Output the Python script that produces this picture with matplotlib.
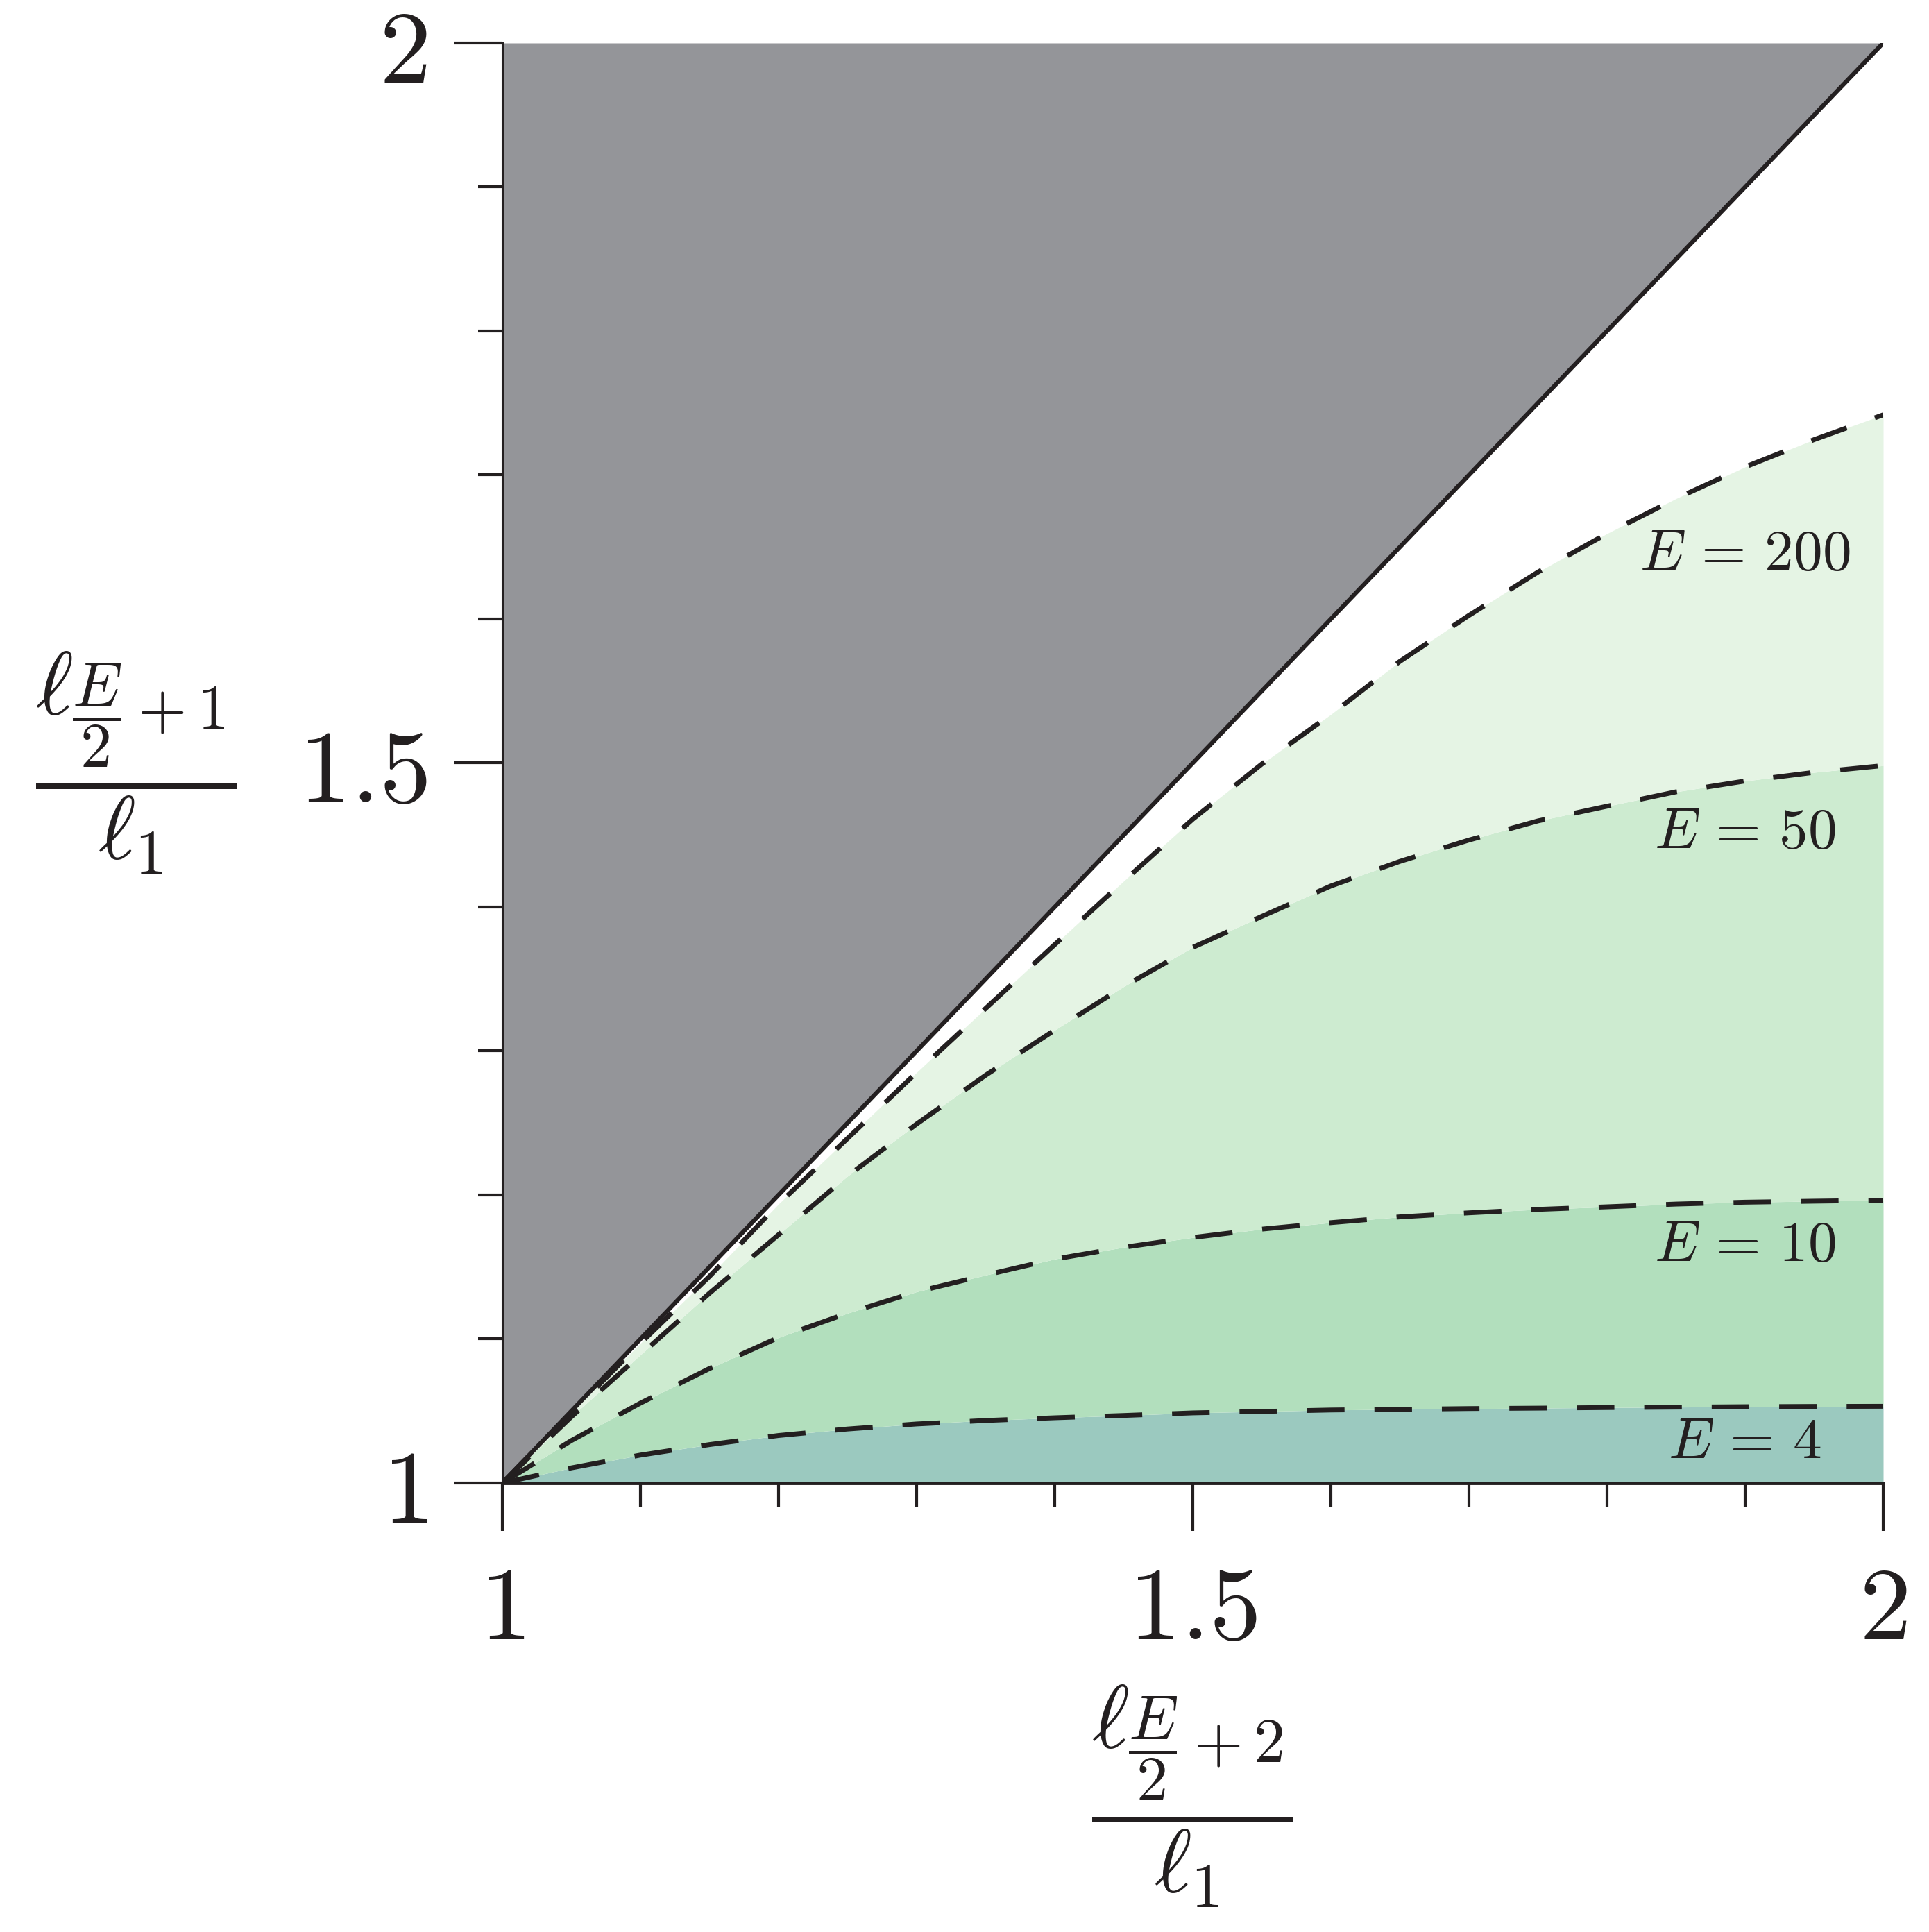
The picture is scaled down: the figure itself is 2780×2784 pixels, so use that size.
import numpy as np
import matplotlib
matplotlib.use("Agg")
import matplotlib.pyplot as plt

plt.rcParams['mathtext.fontset'] = 'cm'
plt.rcParams['font.family'] = ['DejaVu Serif']

# valores
x_vals = [1.0, 1.05, 1.1, 1.15, 1.2, 1.25, 1.3, 1.35, 1.4, 1.45, 1.5,
          1.55, 1.6, 1.65, 1.7, 1.75, 1.8, 1.85, 1.9, 1.95, 2.0]
e4 = [1.0, 1.0105, 1.0194, 1.0267, 1.033, 1.0375, 1.041, 1.0434, 1.0453, 1.0469, 1.0487,
      1.0497, 1.0507, 1.0512, 1.0517, 1.052, 1.0524, 1.0527, 1.053, 1.0532, 1.0533]
e10 = [1.0, 1.0295, 1.0555, 1.0795, 1.101, 1.1179, 1.1328, 1.1444, 1.1555, 1.1637, 1.1705,
       1.1763, 1.1808, 1.1848, 1.1876, 1.190, 1.1918, 1.1937, 1.195, 1.1957, 1.1963]
e50 = [1.0, 1.046, 1.089, 1.1318, 1.1724, 1.2131, 1.2493, 1.2832, 1.3145, 1.3448, 1.372,
       1.3935, 1.4146, 1.4317, 1.4465, 1.4598, 1.470, 1.480, 1.4875, 1.4935, 1.4982]
e200 = [1.0, 1.049, 1.097, 1.1435, 1.1937, 1.2393, 1.2851, 1.3296, 1.3739, 1.418, 1.461,
        1.4993, 1.5337, 1.5706, 1.6025, 1.6326, 1.6593, 1.6836, 1.7056, 1.7246, 1.7418]
diag_x = [1.0, 2.0]
diag_y = [1.0, 2.0]

rotulos = [r'$E\,=\,4$', r'$E\,=\,10$', r'$E\,=\,50$', r'$E\,=\,200$']
rotulo_x = [1.90, 1.90, 1.90, 1.90]
rotulo_y = [1.0173, 1.1542, 1.441, 1.6342]

ticks_major = [1.0, 1.5, 2.0]
tick_labels = ['$1$', '$1.5$', '$2$']
ticks_minor = [1.1, 1.2, 1.3, 1.4, 1.6, 1.7, 1.8, 1.9]

COR_LINHA = '#231F20'
CINZA = '#949599'
VERDES = ['#9BC9BF', '#B2DFBD', '#CDEBD0', '#E5F4E4']

fig = plt.figure(figsize=(27.8, 27.84), dpi=100)
ax = fig.add_axes([0.26043, 0.23240, 0.71583, 0.74533])

# regioes preenchidas
ax.fill_between(diag_x, diag_y, 2.0, color=CINZA, lw=0)
ax.fill_between(x_vals, 1.0, e4, color=VERDES[0], lw=0)
ax.fill_between(x_vals, e4, e10, color=VERDES[1], lw=0)
ax.fill_between(x_vals, e10, e50, color=VERDES[2], lw=0)
ax.fill_between(x_vals, e50, e200, color=VERDES[3], lw=0)

lw_d = 5.0
for serie in [e4, e10, e50, e200]:
    ax.plot(x_vals, serie, color=COR_LINHA, lw=lw_d,
            linestyle=(0, (39 / lw_d, 31 / lw_d)), solid_capstyle='butt')
ax.plot(diag_x, diag_y, color=COR_LINHA, lw=4.5)

for txt, tx, ty in zip(rotulos, rotulo_x, rotulo_y):
    ax.text(tx, ty, txt, fontsize=60, ha='center', va='baseline', color=COR_LINHA)

ax.set_xlim(1, 2)
ax.set_ylim(1, 2)
ax.set_xticks(ticks_major)
ax.set_xticklabels(tick_labels)
ax.set_yticks(ticks_major)
ax.set_yticklabels(tick_labels)
ax.set_xticks(ticks_minor, minor=True)
ax.set_yticks(ticks_minor, minor=True)
ax.tick_params(axis='both', which='major', direction='out', length=50, width=3.0,
               color=COR_LINHA, labelsize=108, labelcolor=COR_LINHA)
ax.tick_params(axis='both', which='minor', direction='out', length=25, width=3.0,
               color=COR_LINHA)
ax.tick_params(axis='x', which='major', pad=30)
ax.tick_params(axis='y', which='major', pad=28)

ax.spines['top'].set_visible(False)
ax.spines['right'].set_visible(False)
ax.spines['left'].set_linewidth(2.2)
ax.spines['bottom'].set_linewidth(3.5)
ax.spines['left'].set_color(COR_LINHA)
ax.spines['bottom'].set_color(COR_LINHA)
ax.set_axisbelow(False)

fig.text(0.6180, 0.0704, r'$\dfrac{\ell_{\dfrac{E}{2}+2}}{\ell_1}$', fontsize=93,
         ha='center', va='center', color=COR_LINHA)
fig.text(0.0705, 0.6049, r'$\dfrac{\ell_{\dfrac{E}{2}+1}}{\ell_1}$', fontsize=93,
         ha='center', va='center', color=COR_LINHA)

fig.savefig('out.png', dpi=100)
